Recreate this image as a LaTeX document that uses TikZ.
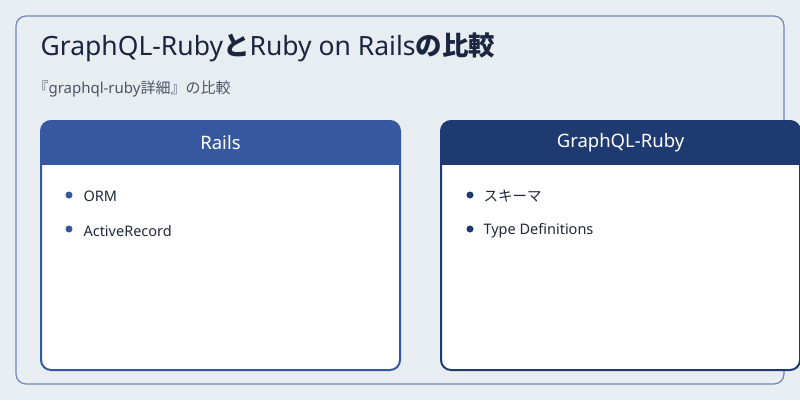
\documentclass[tikz,border=0pt]{standalone}
\usepackage{fontspec}
\setmainfont{Noto Sans}
\newfontfamily\jp{Noto Sans CJK JP}
\definecolor{bg}{HTML}{E8EDF2}
\definecolor{frame}{HTML}{6F86B8}
\definecolor{navy}{HTML}{1A2540}
\definecolor{sub}{HTML}{4A5568}
\definecolor{railsc}{HTML}{3558A0}
\definecolor{gqlc}{HTML}{1E3A70}
\definecolor{txt}{HTML}{1F2937}
\tikzset{
  hdr/.style={text=white,font=\bfseries\fontsize{18.5}{22}\selectfont},
  item/.style={anchor=west,text=txt,font=\fontsize{14.5}{17}\selectfont},
  dot/.style={circle,fill=#1,inner sep=0pt,minimum size=7pt}
}
\begin{document}
\begin{tikzpicture}[x=1pt,y=-1pt]
\useasboundingbox (0,0) rectangle (800,400);
\fill[bg] (0,0) rectangle (800,400);
\draw[frame,line width=1.2pt,rounded corners=10pt,fill=bg] (16,16) rectangle (784,384);
\node[anchor=west,text=navy,font=\bfseries\fontsize{26.5}{30}\selectfont] (title) at (37,47) {GraphQL-Ruby{\jp と}Ruby on Rails{\jp の比較}};
\node[anchor=west,text=sub,font=\fontsize{15}{18}\selectfont] (subt) at (30,89) {{\jp 『}graphql-ruby{\jp 詳細』の比較}};
% Rails card
\fill[white,rounded corners=10pt] (41,121) rectangle (400,370);
\fill[railsc,rounded corners=10pt] (41,121) rectangle (400,175);
\fill[white] (40,165) rectangle (401,180);
\draw[railsc,line width=2pt,rounded corners=10pt] (41,121) rectangle (400,370);
\node[hdr] (rh) at (220.5,143) {Rails};
\node[dot=railsc] (rd1) at (69,195) {};
\node[item] (r1) at (80,196) {ORM};
\node[dot=railsc] (rd2) at (69,229) {};
\node[item] (r2) at (80,231) {ActiveRecord};
% GraphQL card
\fill[white,rounded corners=10pt] (441,121) rectangle (800,370);
\fill[gqlc,rounded corners=10pt] (441,121) rectangle (800,175);
\fill[white] (440,165) rectangle (801,180);
\draw[gqlc,line width=2pt,rounded corners=10pt] (441,121) rectangle (800,370);
\node[hdr] (gh) at (620.5,143) {GraphQL-Ruby};
\node[dot=gqlc] (gd1) at (470,195) {};
\node[item] (g1) at (480,196) {\jp スキーマ};
\node[dot=gqlc] (gd2) at (470,229) {};
\node[item] (g2) at (480,231) {Type Definitions};
\end{tikzpicture}
\end{document}
